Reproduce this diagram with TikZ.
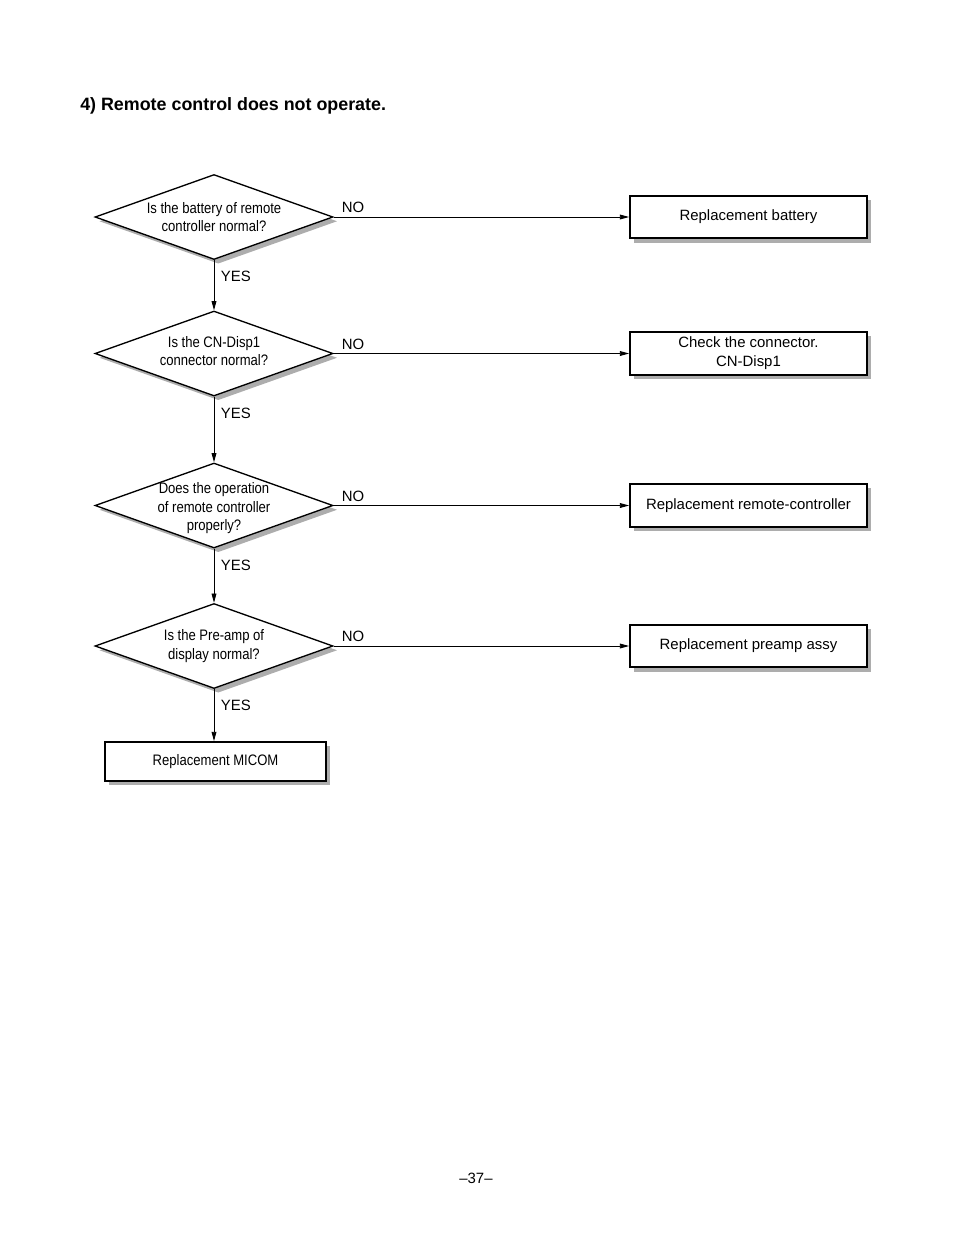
\documentclass[tikz,border=0pt]{standalone}
\usepackage{fontspec}
\setmainfont{Liberation Sans}
\newfontfamily\narrowfont[FakeStretch=0.86]{Liberation Sans}
\usetikzlibrary{shapes.geometric,arrows.meta,shadows}
\begin{document}
\begin{tikzpicture}[x=0.75pt, y=-0.75pt, font=\fontsize{11.2}{14.2}\selectfont, line join=miter, >={Triangle[length=7pt,width=3.6pt]},
  shade/.style={general shadow={fill=black!32, shadow xshift=3.2pt, shadow yshift=-3.2pt}},
  ask/.style={diamond, draw, line width=1pt, fill=white, shade, minimum width=178.5pt, minimum height=63.75pt, inner sep=0pt},
  asktext/.style={font=\narrowfont\fontsize{11.4}{13.6}\selectfont, align=center, inner sep=0pt},
  act/.style={draw, line width=1.3pt, fill=white, shade, minimum width=177.75pt, minimum height=32pt, align=center, inner sep=0pt},
  tag/.style={inner sep=0pt}]
\useasboundingbox (0,0) rectangle (954,1243);
\node[anchor=base west, inner sep=0pt, font=\bfseries\fontsize{13.4}{16}\selectfont] (title) at (80,110) {4) Remote control does not operate.};
% questions
\node[ask] (q1) at (214,217) {};
\node[ask] (q2) at (214,353.5) {};
\node[ask] (q3) at (214,505.5) {};
\node[ask] (q4) at (214,646) {};
\node[asktext] (q1t) at (q1) {Is the battery of remote\\controller normal?};
\node[asktext, yshift=2pt] (q2t) at (q2) {Is the CN-Disp1\\connector normal?};
\node[asktext, yshift=-2pt] (q3t) at (q3) {Does the operation\\of remote controller\\properly?};
\node[asktext] (q4t) at (q4) {Is the Pre-amp of\\display normal?};
% actions
\node[act] (r1) at (748.5,217) {Replacement battery};
\node[act] (r2) at (748.5,353.5) {Check the connector.\\CN-Disp1};
\node[act] (r3) at (748.5,505.5) {Replacement remote-controller};
\node[act] (r4) at (748.5,646) {Replacement preamp assy};
\node[act, minimum width=165.75pt, minimum height=29.25pt, font=\narrowfont\fontsize{11.4}{14}\selectfont] (micom) at (215.5,761.5) {Replacement MICOM};
% connectors
\foreach \i in {1,...,4}{
  \draw[->, line width=0.7pt] (q\i.east) -- (r\i.west);
  \node[tag, anchor=south west, xshift=6pt, yshift=3pt] (no\i) at (q\i.east) {NO};
}
\foreach \a/\b in {q1/q2, q2/q3, q3/q4, q4/micom}{
  \draw[->, line width=0.7pt] (\a.south) -- (\a.south |- \b.north);
  \node[tag, anchor=north west, xshift=5pt, yshift=-8pt] (yes\a) at (\a.south) {YES};
}
\node (page) at (476,1178) {\textendash37\textendash};
\end{tikzpicture}
\end{document}
